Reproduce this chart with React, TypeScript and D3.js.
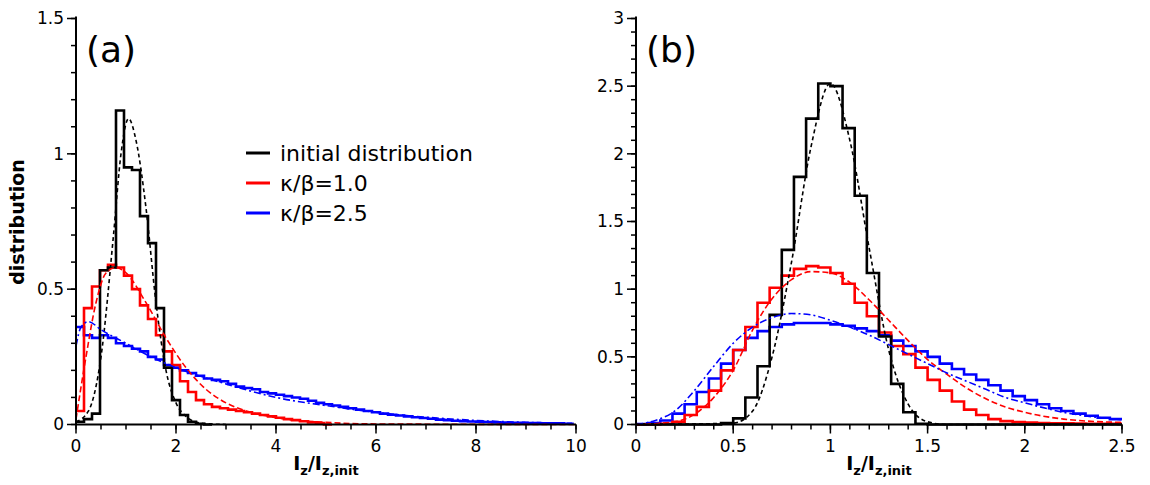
import React from "react";
import * as d3 from "d3";

// panel (a): histograms, bin width 0.16 starting at 0
const binA = 0.16;
const histBlackA = [0.01, 0.02, 0.04, 0.57, 0.58, 1.16, 0.95, 0.94, 0.77, 0.67, 0.43, 0.21, 0.09, 0.035, 0.01, 0.003, 0];
const histRedA = [0.05, 0.43, 0.51, 0.57, 0.59, 0.58, 0.55, 0.5, 0.44, 0.39, 0.33, 0.27, 0.22, 0.16, 0.12, 0.09, 0.075, 0.065, 0.06, 0.055, 0.05, 0.045, 0.04, 0.035, 0.03, 0.025, 0.02, 0.016, 0.012, 0.008, 0.005, 0];
const histBlueA = [0.36, 0.33, 0.32, 0.33, 0.32, 0.3, 0.29, 0.28, 0.27, 0.25, 0.24, 0.22, 0.21, 0.2, 0.19, 0.18, 0.17, 0.165, 0.16, 0.15, 0.14, 0.135, 0.13, 0.12, 0.115, 0.11, 0.105, 0.1, 0.095, 0.088, 0.08, 0.075, 0.07, 0.065, 0.06, 0.055, 0.05, 0.045, 0.04, 0.036, 0.033, 0.03, 0.027, 0.024, 0.021, 0.018, 0.016, 0.014, 0.012, 0.011, 0.01, 0.009, 0.008, 0.007, 0.006, 0.006, 0.005, 0.005, 0.004, 0.004, 0.004, 0.003, 0.003];
const fitBlackA: [number, number][] = [[0, 0.01], [0.25, 0.05], [0.5, 0.25], [0.75, 0.7], [0.9, 1.0], [1.05, 1.13], [1.2, 1.05], [1.4, 0.8], [1.6, 0.45], [1.8, 0.2], [2.0, 0.08], [2.2, 0.03], [2.5, 0.005], [3, 0]];
const fitRedA: [number, number][] = [[0, 0.02], [0.2, 0.25], [0.4, 0.45], [0.6, 0.56], [0.8, 0.58], [1.0, 0.56], [1.4, 0.45], [1.8, 0.32], [2.2, 0.21], [2.6, 0.13], [3, 0.08], [3.5, 0.045], [4, 0.025], [5, 0.008], [6, 0.002], [10, 0]];
const fitBlueA: [number, number][] = [[0, 0.29], [0.1, 0.36], [0.25, 0.38], [0.5, 0.35], [1, 0.3], [1.5, 0.25], [2, 0.21], [3, 0.15], [4, 0.1], [5, 0.07], [6, 0.045], [7, 0.027], [8, 0.015], [9, 0.008], [10, 0.004]];

// panel (b): histograms, bin width 0.0625 starting at 0
const binB = 0.0625;
const histBlackB = [0, 0, 0, 0, 0, 0, 0, 0.01, 0.045, 0.2, 0.43, 0.81, 1.29, 1.83, 2.26, 2.52, 2.5, 2.19, 1.69, 1.12, 0.65, 0.3, 0.09, 0.005, 0, 0, 0, 0, 0, 0, 0, 0, 0, 0, 0, 0, 0, 0, 0, 0];
const histRedB = [0, 0, 0.005, 0.02, 0.07, 0.13, 0.25, 0.4, 0.55, 0.72, 0.9, 1.01, 1.1, 1.15, 1.17, 1.16, 1.12, 1.04, 0.9, 0.8, 0.68, 0.58, 0.52, 0.42, 0.33, 0.25, 0.17, 0.11, 0.07, 0.04, 0.025, 0.018, 0.014, 0.011, 0.009, 0.008, 0.007, 0.006, 0.005, 0.005];
const histBlueB = [0.003, 0.01, 0.03, 0.08, 0.15, 0.24, 0.34, 0.45, 0.55, 0.64, 0.69, 0.72, 0.74, 0.75, 0.75, 0.75, 0.74, 0.73, 0.71, 0.69, 0.66, 0.62, 0.58, 0.54, 0.5, 0.45, 0.41, 0.37, 0.33, 0.29, 0.25, 0.21, 0.18, 0.15, 0.12, 0.1, 0.08, 0.065, 0.05, 0.04];
const fitBlackB: [number, number][] = [[0, 0], [0.5, 0.01], [0.6, 0.1], [0.7, 0.5], [0.8, 1.2], [0.9, 2.05], [1.0, 2.52], [1.1, 2.1], [1.2, 1.3], [1.3, 0.55], [1.4, 0.15], [1.5, 0.02], [1.6, 0], [2.5, 0]];
const fitRedB: [number, number][] = [[0, 0], [0.2, 0.02], [0.4, 0.2], [0.5, 0.4], [0.6, 0.7], [0.7, 0.93], [0.8, 1.07], [0.9, 1.13], [1.0, 1.12], [1.1, 1.05], [1.2, 0.92], [1.3, 0.77], [1.4, 0.62], [1.5, 0.48], [1.6, 0.37], [1.7, 0.27], [1.8, 0.19], [1.9, 0.13], [2.0, 0.09], [2.2, 0.04], [2.5, 0.015]];
const fitBlueB: [number, number][] = [[0, 0], [0.1, 0.03], [0.2, 0.1], [0.3, 0.25], [0.4, 0.43], [0.5, 0.6], [0.6, 0.72], [0.7, 0.79], [0.8, 0.82], [0.9, 0.81], [1.0, 0.77], [1.1, 0.72], [1.2, 0.66], [1.3, 0.59], [1.4, 0.52], [1.5, 0.45], [1.6, 0.38], [1.7, 0.32], [1.8, 0.26], [1.9, 0.2], [2.0, 0.16], [2.2, 0.09], [2.5, 0.035]];

const legendLabels = ["initial distribution", "κ/β=1.0", "κ/β=2.5"];
const colors = ["#000000", "#ff0000", "#0000ff"];
const FONT = "DejaVu Sans, sans-serif";

type PanelProps = {
  x0: number; x1: number; xMax: number; yMax: number;
  xMajor: number[]; xMinor: number; yMajor: number[]; yMinor: number;
  bin: number; hists: number[][]; fits: [number, number][][]; label: string;
};

const Panel: React.FC<PanelProps> = (p) => {
  const x = d3.scaleLinear().domain([0, p.xMax]).range([p.x0, p.x1]);
  const y = d3.scaleLinear().domain([0, p.yMax]).range([424.5, 18.5]);
  const step = d3.line<[number, number]>().x((d) => x(d[0])).y((d) => y(d[1])).curve(d3.curveStepAfter);
  const smooth = d3.line<[number, number]>().x((d) => x(d[0])).y((d) => y(d[1])).curve(d3.curveMonotoneX);
  const histPts = (h: number[]): [number, number][] => {
    const pts: [number, number][] = h.map((v, i) => [i * p.bin, v]);
    pts.push([h.length * p.bin, h[h.length - 1]]);
    return pts.filter((d) => d[0] <= p.xMax + 1e-9);
  };
  const xm = d3.range(0, p.xMax + 1e-9, p.xMinor);
  const ym = d3.range(0, p.yMax + 1e-9, p.yMinor);
  const dashes = ["4,3", "6,3", "7,3,2,3"];
  return (
    <g>
      <defs>
        <clipPath id={"clip" + p.label}>
          <rect x={p.x0} y={0} width={p.x1 - p.x0 + 2} height={426} />
        </clipPath>
      </defs>
      <g clipPath={`url(#clip${p.label})`}>
        {[2, 1, 0].map((k) => (
          <path key={"h" + k} d={step(histPts(p.hists[k])) || ""} fill="none" stroke={colors[k]} strokeWidth={2.6} />
        ))}
        {[0, 1, 2].map((k) => (
          <path key={"f" + k} d={smooth(p.fits[k]) || ""} fill="none" stroke={colors[k]} strokeWidth={1.6} strokeDasharray={dashes[k]} />
        ))}
      </g>
      <line x1={p.x0} x2={p.x0} y1={y(p.yMax) - 2} y2={y(0)} stroke="#000" strokeWidth={2} />
      <line x1={p.x0} x2={p.x1} y1={y(0)} y2={y(0)} stroke="#000" strokeWidth={2} />
      {ym.map((v, i) => (
        <line key={"ym" + i} x1={p.x0} x2={p.x0 - 5} y1={y(v)} y2={y(v)} stroke="#000" strokeWidth={1.5} />
      ))}
      {p.yMajor.map((v) => (
        <g key={"yM" + v}>
          <line x1={p.x0} x2={p.x0 - 9} y1={y(v)} y2={y(v)} stroke="#000" strokeWidth={1.5} />
          <text x={p.x0 - 12} y={y(v)} dy="0.35em" textAnchor="end" fontFamily={FONT} fontSize={17}>{String(v)}</text>
        </g>
      ))}
      {xm.map((v, i) => (
        <line key={"xm" + i} x1={x(v)} x2={x(v)} y1={y(0)} y2={y(0) + 5} stroke="#000" strokeWidth={1.5} />
      ))}
      {p.xMajor.map((v) => (
        <g key={"xM" + v}>
          <line x1={x(v)} x2={x(v)} y1={y(0)} y2={y(0) + 9} stroke="#000" strokeWidth={1.5} />
          <text x={x(v)} y={y(0) + 27} textAnchor="middle" fontFamily={FONT} fontSize={17}>{String(v)}</text>
        </g>
      ))}
      <text x={p.x0 + 10} y={62} fontFamily={FONT} fontSize={36}>{p.label}</text>
      <text x={(p.x0 + p.x1) / 2} y={470} textAnchor="middle" fontFamily={FONT} fontSize={19} fontWeight="bold">
        I<tspan fontSize={13} dy={5}>z</tspan><tspan dy={-5}>/I</tspan><tspan fontSize={13} dy={5}>z,init</tspan>
      </text>
    </g>
  );
};

const App: React.FC = () => (
  <svg width={1150} height={485} style={{ position: "absolute", left: 0, top: 0, background: "#fff" }}>
    <Panel x0={76} x1={576} xMax={10} yMax={1.5} xMajor={[0, 2, 4, 6, 8, 10]} xMinor={0.5}
      yMajor={[0, 0.5, 1, 1.5]} yMinor={0.1} bin={binA}
      hists={[histBlackA, histRedA, histBlueA]} fits={[fitBlackA, fitRedA, fitBlueA]} label="(a)" />
    <Panel x0={636} x1={1122} xMax={2.5} yMax={3} xMajor={[0, 0.5, 1, 1.5, 2, 2.5]} xMinor={0.1}
      yMajor={[0, 0.5, 1, 1.5, 2, 2.5, 3]} yMinor={0.1} bin={binB}
      hists={[histBlackB, histRedB, histBlueB]} fits={[fitBlackB, fitRedB, fitBlueB]} label="(b)" />
    <text transform="translate(24,222) rotate(-90)" textAnchor="middle" fontFamily={FONT} fontSize={19} fontWeight="bold">distribution</text>
    {legendLabels.map((l, i) => (
      <g key={l}>
        <line x1={246} x2={270} y1={153 + i * 30} y2={153 + i * 30} stroke={colors[i]} strokeWidth={3} />
        <text x={280} y={153 + i * 30} dy="0.35em" fontFamily={FONT} fontSize={22}>{l}</text>
      </g>
    ))}
  </svg>
);

export default App;
